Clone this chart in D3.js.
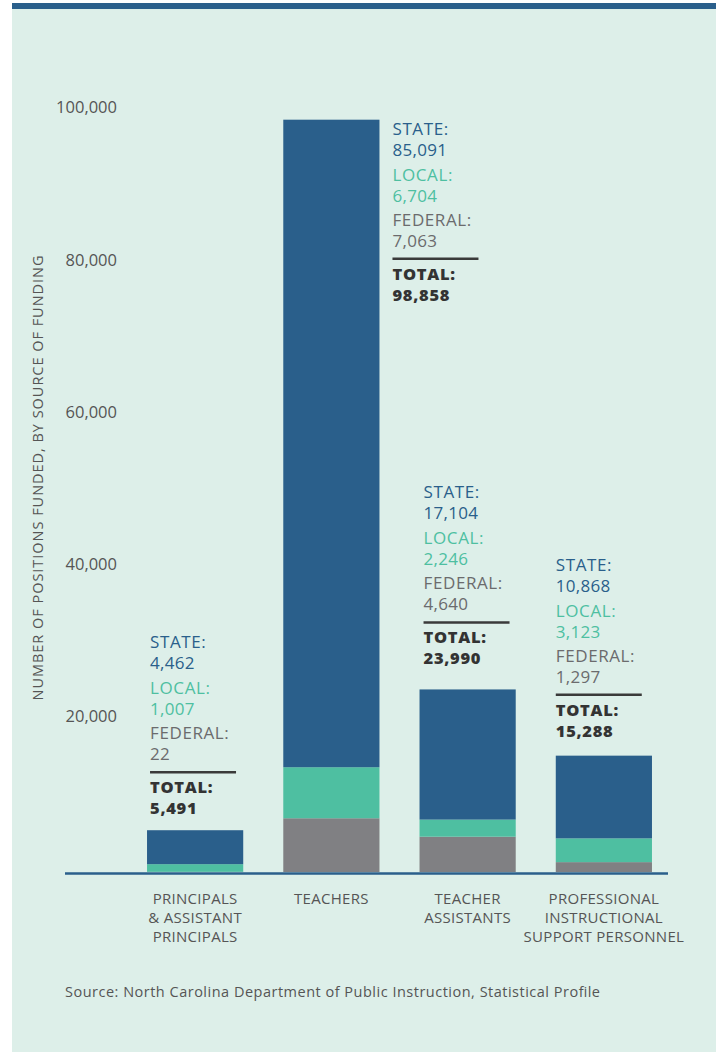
<!DOCTYPE html>
<html>
<head>
<meta charset="utf-8">
<script src="https://cdn.jsdelivr.net/npm/d3@7"></script>
<style>
  html, body { margin: 0; padding: 0; background: #ffffff; }
  svg { display: block; }
  text { font-family: "Open Sans", "Lato", sans-serif; }
</style>
</head>
<body>
<svg id="chart" width="721" height="1057"></svg>
<script>
// Positions funded, by source of funding
const categories = [
  ["PRINCIPALS", "& ASSISTANT", "PRINCIPALS"],
  ["TEACHERS"],
  ["TEACHER", "ASSISTANTS"],
  ["PROFESSIONAL", "INSTRUCTIONAL", "SUPPORT PERSONNEL"]
];
const federal = [22, 7063, 4640, 1297];
const local   = [1007, 6704, 2246, 3123];
const state   = [4462, 85091, 17104, 10868];
const totals  = [5491, 98858, 23990, 15288];
const yTicks  = [20000, 40000, 60000, 80000, 100000];
const sourceNote = "Source: North Carolina Department of Public Instruction, Statistical Profile";
const yTitle = "NUMBER OF POSITIONS FUNDED, BY SOURCE OF FUNDING";

const colors = { state: "#2a5f8b", local: "#4ebfa1", federal: "#808083" };
const textColors = { state: "#2a5f8b", local: "#4ebfa1", federal: "#6b6b6d", total: "#333333" };

const svg = d3.select("#chart");

// Panel background and top rule
svg.append("rect").attr("x", 12).attr("y", 3).attr("width", 704).attr("height", 1049).attr("fill", "#ddefe9");
svg.append("rect").attr("x", 12).attr("y", 3).attr("width", 704).attr("height", 6).attr("fill", "#2a5f8b");

const x = d3.scaleBand().domain(d3.range(categories.length)).range([127, 672])
  .paddingInner(0.294).paddingOuter(0.147);
const y = d3.scaleLinear().domain([0, 100000]).range([872, 111]);

// Stacked bars
const rows = categories.map((c, i) => ({ i, federal: federal[i], local: local[i], state: state[i] }));
const stack = d3.stack().keys(["federal", "local", "state"])(rows);
svg.append("g").selectAll("g").data(stack).join("g")
  .attr("fill", d => colors[d.key])
  .selectAll("rect").data(d => d).join("rect")
  .attr("x", d => x(d.data.i))
  .attr("width", x.bandwidth())
  .attr("y", d => y(d[1]))
  .attr("height", d => y(d[0]) - y(d[1]));

// Y axis labels (no line or ticks)
const yAxis = svg.append("g").attr("transform", "translate(117,0)")
  .call(d3.axisLeft(y).tickValues(yTicks).tickSize(0).tickPadding(0).tickFormat(d3.format(",")));
yAxis.select(".domain").remove();
yAxis.selectAll("text").attr("font-size", 16.5).attr("fill", "#555555").attr("dy", "0.12em")
  .style("font-family", "'Open Sans', sans-serif");

// Baseline
svg.append("line").attr("x1", 65).attr("x2", 668).attr("y1", y(0) + 1.5).attr("y2", y(0) + 1.5)
  .attr("stroke", "#2a5f8b").attr("stroke-width", 2.5);

// Y axis title
svg.append("text")
  .attr("transform", "translate(43,478) rotate(-90)")
  .attr("text-anchor", "middle").attr("font-size", 14.5).attr("fill", "#555555")
  .attr("textLength", 445).attr("lengthAdjust", "spacing")
  .text(yTitle);

// Category labels
const catG = svg.append("g");
categories.forEach((lines, i) => {
  const t = catG.append("text").attr("text-anchor", "middle").attr("font-size", 15)
    .attr("fill", "#555555").attr("letter-spacing", "0.3");
  lines.forEach((ln, k) => {
    t.append("tspan").attr("x", x(i) + x.bandwidth() / 2).attr("y", 904 + k * 19).text(ln);
  });
});

// Value callouts: left x and STATE baseline for each category
const fmt = d3.format(",");
const blockX = [x(0) + 3, x(1) + x.bandwidth() + 13, x(2) + 4, x(3)];
const blockTop = [y(totals[0]) - 182, y(totals[1]) + 15, y(totals[2]) - 191, y(totals[3]) - 185];
const ann = svg.append("g");
totals.forEach((tot, i) => {
  const g = ann.append("g").attr("transform", `translate(${blockX[i]},${blockTop[i]})`);
  const items = [
    ["STATE:", fmt(state[i]), textColors.state, 0],
    ["LOCAL:", fmt(local[i]), textColors.local, 46],
    ["FEDERAL:", fmt(federal[i]), textColors.federal, 91]
  ];
  items.forEach(it => {
    g.append("text").attr("y", it[3]).attr("font-size", 17).attr("fill", it[2])
      .attr("font-weight", 500).attr("letter-spacing", "0.6").text(it[0]);
    g.append("text").attr("y", it[3] + 21).attr("font-size", 17).attr("fill", it[2])
      .attr("font-weight", 500).attr("letter-spacing", "0.3").text(it[1]);
  });
  g.append("line").attr("x1", 0).attr("x2", 86).attr("y1", 124).attr("y2", 124)
    .attr("stroke", "#3a3a3a").attr("stroke-width", 2.5);
  g.append("text").attr("y", 145).attr("font-size", 16.5).attr("font-weight", 800)
    .attr("fill", textColors.total).attr("letter-spacing", "0.7").text("TOTAL:");
  g.append("text").attr("y", 166).attr("font-size", 16.5).attr("font-weight", 800)
    .attr("fill", textColors.total).attr("letter-spacing", "0.7").text(fmt(tot));
});

// Source note
svg.append("text").attr("x", 65).attr("y", 997).attr("font-size", 14.5).attr("fill", "#555555")
  .attr("textLength", 535).attr("lengthAdjust", "spacing")
  .text(sourceNote);
</script>
</body>
</html>
